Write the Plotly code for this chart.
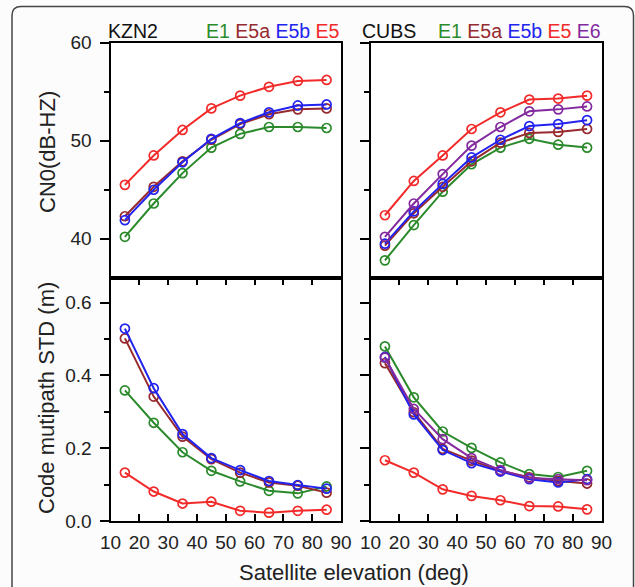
import plotly.graph_objects as go

elev = [15, 25, 35, 45, 55, 65, 75, 85]

# KZN2 CN0 (dB-Hz)
kzn_cn0_E1 = [40.2, 43.6, 46.7, 49.3, 50.7, 51.4, 51.4, 51.3]
kzn_cn0_E5a = [42.3, 45.3, 47.9, 50.1, 51.7, 52.7, 53.2, 53.3]
kzn_cn0_E5b = [41.9, 45.0, 47.8, 50.2, 51.8, 52.9, 53.6, 53.7]
kzn_cn0_E5 = [45.5, 48.5, 51.1, 53.3, 54.6, 55.5, 56.1, 56.2]

# CUBS CN0 (dB-Hz)
cubs_cn0_E1 = [37.8, 41.4, 44.8, 47.6, 49.3, 50.2, 49.6, 49.3]
cubs_cn0_E5a = [39.3, 42.6, 45.3, 47.9, 49.8, 50.8, 50.9, 51.2]
cubs_cn0_E5b = [39.5, 42.8, 45.6, 48.3, 50.1, 51.5, 51.7, 52.1]
cubs_cn0_E5 = [42.4, 45.9, 48.5, 51.2, 52.9, 54.2, 54.3, 54.6]
cubs_cn0_E6 = [40.2, 43.6, 46.6, 49.5, 51.4, 53.0, 53.2, 53.5]

# KZN2 code multipath STD (m)
kzn_mp_E1 = [0.359, 0.270, 0.189, 0.138, 0.109, 0.083, 0.076, 0.095]
kzn_mp_E5a = [0.502, 0.342, 0.232, 0.170, 0.133, 0.106, 0.097, 0.078]
kzn_mp_E5b = [0.529, 0.365, 0.239, 0.173, 0.140, 0.110, 0.099, 0.089]
kzn_mp_E5 = [0.133, 0.081, 0.048, 0.053, 0.028, 0.023, 0.028, 0.031]

# CUBS code multipath STD (m)
cubs_mp_E1 = [0.480, 0.340, 0.246, 0.201, 0.161, 0.129, 0.121, 0.138]
cubs_mp_E5a = [0.434, 0.299, 0.198, 0.166, 0.138, 0.120, 0.110, 0.103]
cubs_mp_E5b = [0.451, 0.293, 0.195, 0.159, 0.136, 0.115, 0.106, 0.115]
cubs_mp_E5 = [0.167, 0.133, 0.087, 0.069, 0.057, 0.041, 0.040, 0.032]
cubs_mp_E6 = [0.449, 0.308, 0.225, 0.173, 0.140, 0.118, 0.115, 0.112]

x_ticks = [10, 20, 30, 40, 50, 60, 70, 80, 90]
cn0_ticks = [40, 50, 60]
mp_ticks = [0.0, 0.2, 0.4, 0.6]

colors = {
    "E1": "#2b8a2b",
    "E5a": "#962a2e",
    "E5b": "#2323f0",
    "E5": "#f22a2a",
    "E6": "#832a9e",
}

W, H = 635, 587
FONT = "Liberation Sans, Arial, sans-serif"


def px(x):
    return x / W


def py(y):
    return 1 - y / H


xl = [px(110.5), px(341)]
xr = [px(370.5), px(601.5)]
yt = [py(278), py(42.7)]
yb = [py(521), py(278)]

fig = go.Figure()

panels = [
    ("x", "y", [("E1", kzn_cn0_E1), ("E5a", kzn_cn0_E5a), ("E5b", kzn_cn0_E5b), ("E5", kzn_cn0_E5)]),
    ("x2", "y2", [("E1", cubs_cn0_E1), ("E5a", cubs_cn0_E5a), ("E5b", cubs_cn0_E5b), ("E6", cubs_cn0_E6), ("E5", cubs_cn0_E5)]),
    ("x3", "y3", [("E1", kzn_mp_E1), ("E5a", kzn_mp_E5a), ("E5b", kzn_mp_E5b), ("E5", kzn_mp_E5)]),
    ("x4", "y4", [("E1", cubs_mp_E1), ("E5a", cubs_mp_E5a), ("E5b", cubs_mp_E5b), ("E6", cubs_mp_E6), ("E5", cubs_mp_E5)]),
]

for xa, ya, series in panels:
    for name, vals in series:
        fig.add_trace(go.Scatter(
            x=elev, y=vals, xaxis=xa, yaxis=ya, mode="lines+markers", name=name,
            showlegend=False,
            line=dict(color=colors[name], width=2),
            marker=dict(symbol="circle-open", size=9, color=colors[name], line=dict(width=1.7, color=colors[name])),
        ))

axis_common = dict(showline=True, linecolor="black", linewidth=2, mirror=True,
                   showgrid=False, zeroline=False, automargin=False)

tickfont = dict(family=FONT, size=19, color="#222")

xbase = dict(range=[10, 90], tickvals=x_ticks, **axis_common)

fig.update_layout(
    width=W, height=H,
    margin=dict(l=0, r=0, t=0, b=0, autoexpand=False),
    paper_bgcolor="#fcfcfc",
    plot_bgcolor="white",
    font=dict(family=FONT),
    xaxis=dict(domain=xl, anchor="y", showticklabels=False, ticks="", **xbase),
    xaxis2=dict(domain=xr, anchor="y2", showticklabels=False, ticks="", **xbase),
    xaxis3=dict(domain=xl, anchor="y3", ticks="inside", ticklen=7, tickwidth=2, tickcolor="black",
                tickfont=tickfont, ticklabelstandoff=3, **{**xbase, "mirror": "ticks"}),
    xaxis4=dict(domain=xr, anchor="y4", ticks="inside", ticklen=7, tickwidth=2, tickcolor="black",
                tickfont=tickfont, ticklabelstandoff=3, **{**xbase, "mirror": "ticks"}),
    yaxis=dict(domain=yt, anchor="x", range=[36, 60], tickvals=cn0_ticks, ticks="outside", ticklen=9,
               tickwidth=2, tickcolor="black", tickfont=tickfont, ticklabelstandoff=4,
               minor=dict(tickvals=[45, 55], ticks="outside", ticklen=5, tickwidth=2, tickcolor="black"),
               **axis_common),
    yaxis2=dict(domain=yt, anchor="x2", range=[36, 60], tickvals=cn0_ticks, ticks="outside", ticklen=9,
                tickwidth=2, tickcolor="black", showticklabels=False,
                minor=dict(tickvals=[45, 55], ticks="outside", ticklen=5, tickwidth=2, tickcolor="black"),
                **axis_common),
    yaxis3=dict(domain=yb, anchor="x3", range=[0, 0.668], tickvals=mp_ticks, tickformat=".1f",
                ticks="outside", ticklen=9, tickwidth=2, tickcolor="black", tickfont=tickfont,
                ticklabelstandoff=4,
                minor=dict(tickvals=[0.1, 0.3, 0.5], ticks="outside", ticklen=5, tickwidth=2, tickcolor="black"),
                **axis_common),
    yaxis4=dict(domain=yb, anchor="x4", range=[0, 0.668], tickvals=mp_ticks, ticks="outside", ticklen=9,
                tickwidth=2, tickcolor="black", showticklabels=False,
                minor=dict(tickvals=[0.1, 0.3, 0.5], ticks="outside", ticklen=5, tickwidth=2, tickcolor="black"),
                **axis_common),
)


def lbl(names):
    return " ".join(f"<span style='color:{colors[n]}'>{n}</span>" for n in names)


ann_font = dict(family=FONT, size=19.5, color="#111")
title_font = dict(family=FONT, size=22, color="#222")

fig.add_annotation(x=px(106), y=py(31), xref="paper", yref="paper", text="KZN2", showarrow=False,
                   xanchor="left", yanchor="middle", font=ann_font)
fig.add_annotation(x=px(342), y=py(31), xref="paper", yref="paper", text=lbl(["E1", "E5a", "E5b", "E5"]),
                   showarrow=False, xanchor="right", yanchor="middle", font=ann_font)
fig.add_annotation(x=px(360), y=py(31), xref="paper", yref="paper", text="CUBS", showarrow=False,
                   xanchor="left", yanchor="middle", font=ann_font)
fig.add_annotation(x=px(603), y=py(31), xref="paper", yref="paper", text=lbl(["E1", "E5a", "E5b", "E5", "E6"]),
                   showarrow=False, xanchor="right", yanchor="middle", font=ann_font)

fig.add_annotation(x=px(47), y=py(152), xref="paper", yref="paper", text="CN0(dB-HZ)", showarrow=False,
                   textangle=-90, xanchor="center", yanchor="middle", font=title_font)
fig.add_annotation(x=px(46), y=py(398), xref="paper", yref="paper", text="Code mutipath STD (m)",
                   showarrow=False, textangle=-90, xanchor="center", yanchor="middle", font=title_font)
fig.add_annotation(x=px(354), y=py(572), xref="paper", yref="paper", text="Satellite elevation (deg)",
                   showarrow=False, xanchor="center", yanchor="middle", font=title_font)

# rounded outer frame (open at the bottom)
L, T, R, B, r = 12, 6.5, 633.5, 600, 9
path = (f"M {px(L)},{py(B)} L {px(L)},{py(T + r)} Q {px(L)},{py(T)} {px(L + r)},{py(T)} "
        f"L {px(R - r)},{py(T)} Q {px(R)},{py(T)} {px(R)},{py(T + r)} L {px(R)},{py(B)}")
fig.add_shape(type="path", path=path, xref="paper", yref="paper", line=dict(color="#444", width=1.5),
              layer="below")

fig.write_html("out.html", config={"displayModeBar": False},
               post_script="document.body.style.margin='0';document.body.style.overflow='hidden';")
